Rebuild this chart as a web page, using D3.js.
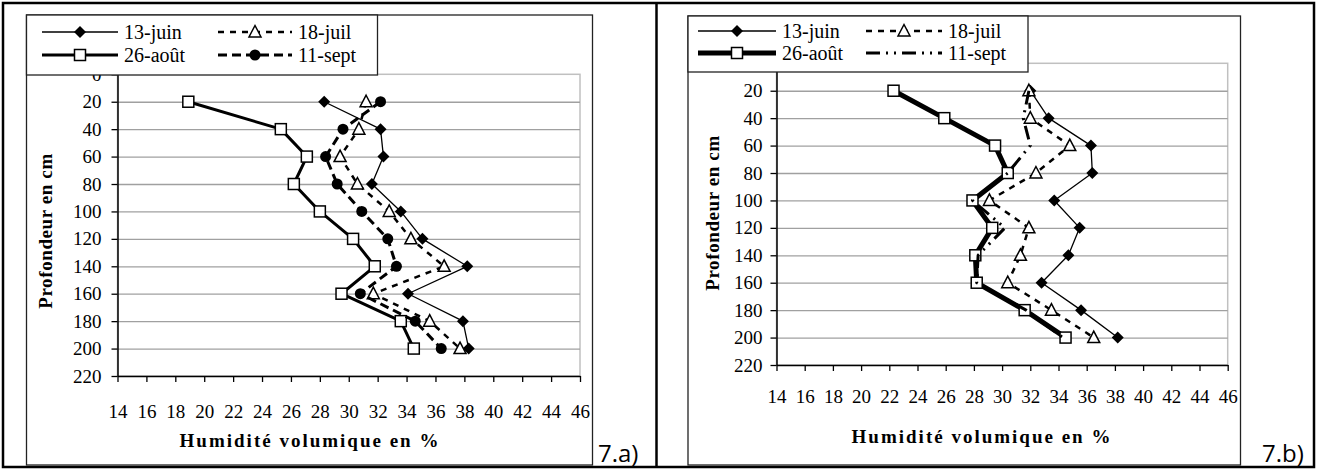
<!DOCTYPE html>
<html>
<head>
<meta charset="utf-8">
<script src="https://cdn.jsdelivr.net/npm/d3@7"></script>
<style>
body { margin: 0; background: #fff; }
svg { display: block; }
</style>
</head>
<body>
<svg id="fig" width="1317" height="470"></svg>
<script>
// profondeurs (cm) et graduations
var depths = [20, 40, 60, 80, 100, 120, 140, 160, 180, 200];
var yTicks = [0, 20, 40, 60, 80, 100, 120, 140, 160, 180, 200, 220];
var xTicks = [14, 16, 18, 20, 22, 24, 26, 28, 30, 32, 34, 36, 38, 40, 42, 44, 46];
var seriesNames = ["13-juin", "18-juil", "26-août", "11-sept"];

// 7.a) humidite volumique en %
var juinA = [28.3, 32.2, 32.4, 31.6, 33.6, 35.1, 38.2, 34.1, 37.9, 38.3];
var juilA = [31.2, 30.7, 29.4, 30.6, 32.8, 34.3, 36.6, 31.7, 35.6, 37.7];
var aoutA = [18.9, 25.3, 27.1, 26.2, 28.0, 30.3, 31.8, 29.5, 33.6, 34.5];
var septA = [32.2, 29.6, 28.4, 29.2, 30.9, 32.7, 33.3, 30.8, 34.6, 36.4];

// 7.b)
var juinB = [32.0, 33.3, 36.3, 36.4, 33.7, 35.5, 34.7, 32.8, 35.6, 38.2];
var juilB = [31.9, 32.0, 34.8, 32.4, 29.1, 31.9, 31.3, 30.4, 33.5, 36.5];
var aoutB = [22.3, 25.9, 29.5, 30.4, 27.9, 29.3, 28.1, 28.2, 31.6, 34.5];
var septB = [31.9, 31.5, 32.0, 30.4, 27.9, 30.2, 28.3, 28.2, 31.7, 34.3];

var serif = "'Liberation Serif', 'Times New Roman', 'DejaVu Serif', serif";

var svg = d3.select("#fig");

// cadre du tableau
svg.append("rect").attr("x", 3).attr("y", 3).attr("width", 1311).attr("height", 464)
    .attr("fill", "none").attr("stroke", "#000").attr("stroke-width", 2.5);
svg.append("line").attr("x1", 656.5).attr("x2", 656.5).attr("y1", 3).attr("y2", 467)
    .attr("stroke", "#000").attr("stroke-width", 2.5);

function marker(g, type, x, y) {
    if (type == "diamond") {
        g.append("path").attr("d", "M" + x + "," + (y - 6) + "L" + (x + 6) + "," + y + "L" + x + "," + (y + 6) + "L" + (x - 6) + "," + y + "Z")
            .attr("fill", "#000");
    } else if (type == "triangle") {
        g.append("path").attr("d", "M" + x + "," + (y - 6.5) + "L" + (x + 6) + "," + (y + 5) + "L" + (x - 6) + "," + (y + 5) + "Z")
            .attr("fill", "#fff").attr("stroke", "#000").attr("stroke-width", 1.5);
    } else if (type == "square") {
        g.append("rect").attr("x", x - 5.5).attr("y", y - 5.5).attr("width", 11).attr("height", 11)
            .attr("fill", "#fff").attr("stroke", "#000").attr("stroke-width", 1.5);
    } else if (type == "circle") {
        g.append("circle").attr("cx", x).attr("cy", y).attr("r", 5.5).attr("fill", "#000");
    }
}

function drawChart(c) {
    var g = svg.append("g");

    // cadre du graphique
    g.append("rect").attr("x", c.frame[0]).attr("y", c.frame[1]).attr("width", c.frame[2]).attr("height", c.frame[3])
        .attr("fill", "#fff").attr("stroke", "#222").attr("stroke-width", 1.3);

    var x = d3.scaleLinear().domain([14, 46]).range([c.plot[0], c.plot[1]]);
    var y = d3.scaleLinear().domain([0, 220]).range([c.plot[2], c.plot[3]]);

    // bord de la zone de tracé
    g.append("rect").attr("x", x(14)).attr("y", y(0)).attr("width", x(46) - x(14)).attr("height", y(220) - y(0))
        .attr("fill", "none").attr("stroke", "#c0c0c0").attr("stroke-width", 1.5);

    // quadrillage horizontal
    g.append("g")
        .attr("transform", "translate(" + x(14) + ",0)")
        .call(d3.axisLeft(y).tickValues(depths).tickSize(-(x(46) - x(14))).tickFormat(""))
        .call(function (a) { a.select(".domain").remove(); })
        .selectAll("line").attr("stroke", "#a0a0a0").attr("stroke-width", 1.3);

    // axe Y
    var ya = g.append("g")
        .attr("transform", "translate(" + x(14) + ",0)")
        .call(d3.axisLeft(y).tickValues(yTicks).tickSize(6).tickPadding(c.yPad).tickSizeOuter(0))
        .attr("font-family", serif).attr("font-size", 19);
    ya.select(".domain").attr("stroke", "#000").attr("stroke-width", 1.5);
    ya.selectAll("line").attr("stroke", "#000").attr("stroke-width", 1.3);

    // axe X
    var xa = g.append("g")
        .attr("transform", "translate(0," + y(220) + ")")
        .call(d3.axisBottom(x).tickValues(xTicks).tickSize(6).tickSizeOuter(0))
        .attr("font-family", serif).attr("font-size", 19);
    xa.select(".domain").attr("stroke", "#000").attr("stroke-width", 1.5);
    xa.selectAll("line").attr("stroke", "#000").attr("stroke-width", 1.3);
    xa.selectAll("text").attr("y", c.xLab - y(220)).attr("dy", "0.35em");

    // titres des axes
    g.append("text").attr("transform", "translate(" + c.yTitle[0] + "," + c.yTitle[1] + ") rotate(-90)")
        .attr("text-anchor", "middle").attr("dy", "0.35em")
        .attr("font-family", serif).attr("font-size", 19).attr("font-weight", "bold").attr("letter-spacing", 0.6)
        .text("Profondeur en cm");
    g.append("text").attr("x", c.xTitle[0]).attr("y", c.xTitle[1])
        .attr("text-anchor", "middle").attr("dy", "0.35em")
        .attr("font-family", serif).attr("font-size", 19).attr("font-weight", "bold").attr("letter-spacing", 2)
        .text("Humidité volumique en %");

    // courbes
    var line = d3.line()
        .x(function (d) { return x(d[0]); })
        .y(function (d) { return y(d[1]); });

    c.series.forEach(function (s, i) {
        var pts = s.map(function (v, j) { return [v, depths[j]]; });
        var st = c.styles[i];
        g.append("path").datum(pts).attr("d", line)
            .attr("fill", "none").attr("stroke", "#000")
            .attr("stroke-width", st.w).attr("stroke-dasharray", st.dash)
            .attr("stroke-linejoin", "round");
        pts.forEach(function (p) { marker(g, st.m, x(p[0]), y(p[1])); });
    });

    // légende
    var L = c.legend;
    g.append("rect").attr("x", L.box[0]).attr("y", L.box[1]).attr("width", L.box[2]).attr("height", L.box[3])
        .attr("fill", "#fff").attr("stroke", "#222").attr("stroke-width", 1.3);
    seriesNames.forEach(function (name, i) {
        var col = i % 2, row = Math.floor(i / 2);
        var ly = L.rows[row];
        var cx = L.cols[col];
        var st = c.styles[i];
        g.append("line").attr("x1", cx[0]).attr("x2", cx[1]).attr("y1", ly).attr("y2", ly)
            .attr("stroke", "#000").attr("stroke-width", st.w).attr("stroke-dasharray", st.dash);
        marker(g, st.m, (cx[0] + cx[1]) / 2, ly);
        g.append("text").attr("x", cx[1] + 6).attr("y", ly).attr("dy", "0.35em")
            .attr("font-family", serif).attr("font-size", 20).text(name);
    });

    // numéro de figure
    svg.append("text").attr("x", c.fig[0]).attr("y", c.fig[1])
        .attr("font-family", "'Open Sans', 'Liberation Sans', sans-serif").attr("font-size", 24)
        .text(c.figName);
}

drawChart({
    frame: [26.5, 15, 566, 450],
    plot: [117.5, 580, 74.3, 376],
    yPad: 10,
    xLab: 411,
    yTitle: [45, 231],
    xTitle: [310, 440],
    series: [juinA, juilA, aoutA, septA],
    styles: [
        { w: 1.3, dash: null, m: "diamond" },
        { w: 2.5, dash: "6 6", m: "triangle" },
        { w: 3, dash: null, m: "square" },
        { w: 3, dash: "9 5", m: "circle" }
    ],
    legend: { box: [26.5, 15, 351, 60], rows: [32, 55], cols: [[42, 118], [218, 292]] },
    fig: [598, 462],
    figName: "7.a)"
});

drawChart({
    frame: [688, 16, 552.5, 449],
    plot: [776.5, 1227.7, 63.3, 365],
    yPad: 8,
    xLab: 396,
    yTitle: [712, 213],
    xTitle: [982, 436],
    series: [juinB, juilB, aoutB, septB],
    styles: [
        { w: 1.3, dash: null, m: "diamond" },
        { w: 2.5, dash: "6 6", m: "triangle" },
        { w: 5, dash: null, m: "square" },
        { w: 3, dash: "14 6 2 6 2 6", m: null }
    ],
    legend: { box: [688, 16, 340, 56], rows: [31, 53], cols: [[698, 776], [866, 942]] },
    fig: [1262, 462],
    figName: "7.b)"
});
</script>
</body>
</html>
